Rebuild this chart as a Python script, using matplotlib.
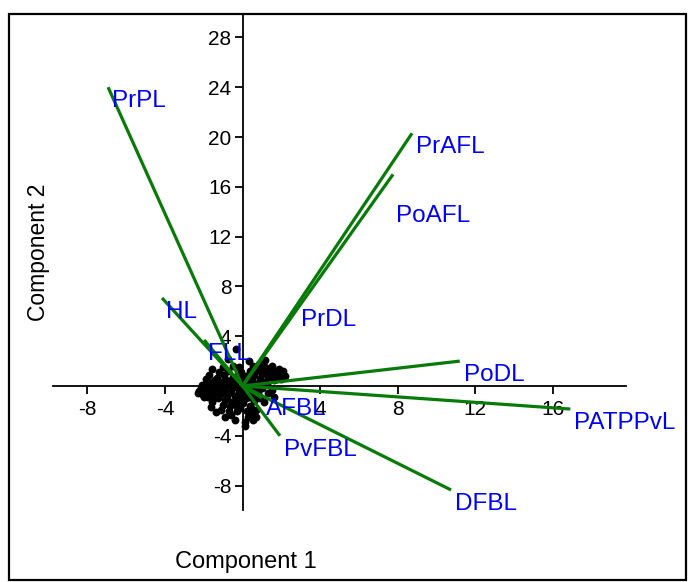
# biplot of component 1 vs component 2
import matplotlib
matplotlib.use('Agg')
import matplotlib.pyplot as plt
from matplotlib.patches import Rectangle

plt.rcParams['font.family'] = ['Liberation Sans', 'DejaVu Sans']
plt.rcParams['axes.unicode_minus'] = False

# loading vectors
var_names = ['PrPL', 'PrAFL', 'PoAFL', 'HL', 'FLL', 'PrDL', 'PoDL',
             'PATPPvL', 'AFBL', 'PvFBL', 'DFBL']
var_x = [-6.93, 8.74, 7.76, -4.15, -1.98, 2.8, 11.2, 16.9, 1.0, 1.93, 10.75]
var_y = [24.0, 20.3, 17.0, 7.07, 3.7, 6.4, 2.0, -1.85, -0.96, -4.0, -8.35]

# scores
score_x = [-2.24, -2.1, -1.95, -1.8, -1.7, -1.65, -1.55, -1.5, -1.45, -1.4,
           -1.3, -1.25, -1.2, -1.15, -1.05, -1.0, -0.95, -0.9, -0.88, -0.85,
           -0.8, -0.75, -0.7, -0.65, -0.6, -0.55, -0.5, -0.45, -0.4, -0.35,
           -0.3, -0.25, -0.2, -0.15, -0.1, -0.05, -1.55, -0.36, -0.74, -1.9,
           -2.0, -1.35, -1.1, -0.6, -0.3, -1.75, -0.2, -1.0, -2.3, -1.6,
           0.1, 0.2, 0.3, 0.4, 0.5, 0.6, 0.7, 0.8, 0.86, 0.9,
           1.0, 1.04, 1.1, 1.2, 1.3, 1.38, 1.45, 1.5, 1.6, 1.7,
           1.8, 1.9, 2.0, 2.07, 2.2, 1.14, 0.55, 0.35, 1.25, 0.75,
           0.1, 0.2, 0.3, 0.4, 0.42, 0.5, 0.52, 0.6, 0.68, 0.8,
           0.9, 1.0, 1.12, 1.3, 1.64, 0.25, 0.15, 0.05, 0.7, 1.5,
           -0.1, -0.5, -1.2,
           -2.05, -1.85, -1.6, -1.4, -1.2, -0.95, -0.7, -0.45, -0.25, -1.75,
           -1.5, -1.3, -1.05, -0.8, -0.55, -0.35, -2.15, -1.9, -0.65, -0.15,
           0.95, 1.15, 1.55, 1.75, 1.95, 0.65, 0.45, 1.35, 2.1, 0.25,
           0.35, 0.6, 0.85, 0.3, 0.45, 0.15, -0.4, -0.9, -1.45, -0.2]
score_y = [-0.4, 0.1, -0.2, -0.9, -0.5, -1.7, -1.3, 0.3, -0.1, -0.7,
           0.67, -1.0, 0.2, -0.4, 0.32, -1.5, 0.9, -0.2, -2.5, 0.5,
           -0.9, 1.2, -2.0, 0.1, -0.5, -1.3, 0.7, -0.1, -0.8, 0.3,
           -1.6, 0.9, -0.3, -1.0, 0.4, -0.6, 1.37, 3.0, 2.2, 0.6,
           -0.9, -2.1, -1.9, -2.3, -2.0, 0.9, 1.5, 1.5, -0.6, 0.0,
           0.3, 0.8, 0.2, 1.2, 0.5, 0.9, 0.2, 1.4, 1.8, 0.6,
           1.0, 2.1, 0.3, 1.2, 0.7, 1.28, 0.9, 1.6, 0.5, 1.1,
           0.8, 1.4, 0.6, 1.0, 0.8, 2.1, 1.6, 2.0, 0.2, 0.1,
           -0.4, -1.0, -0.3, -1.6, -2.3, -0.7, -2.76, -1.2, -1.9, -0.5,
           -1.0, -0.2, -1.29, -0.6, -0.89, -2.0, -2.9, -1.4, -2.5, -0.3,
           1.1, 1.6, 1.1,
           -0.7, 0.4, -0.9, 0.5, -0.7, -0.6, 0.4, 0.2, -0.7, -0.1,
           -0.3, -0.4, -0.1, 0.2, 0.3, -1.2, -0.2, -0.5, -1.6, -1.8,
           1.3, 1.5, 0.8, 0.6, 1.1, 1.1, 0.6, 1.0, 1.2, 0.5,
           -0.9, -0.4, -0.8, -2.5, -1.8, -3.2, -2.7, -1.1, -0.9, 0.6]

xticks = [-8, -4, 4, 8, 12, 16]
yticks = [-8, -4, 4, 8, 12, 16, 20, 24, 28]

# label offsets in points (dx, dy) from the vector tip
label_off = {'PoAFL': (2, -22), 'PrDL': (3, -2), 'AFBL': (3, 0)}

fig = plt.figure(figsize=(6.92, 5.82), dpi=100)
ax = fig.add_axes([53/692, 72/582, 573/692, 495/582])
ax.set_xlim(-9.77, 19.77)
ax.set_ylim(-9.96, 29.8)

ax.scatter(score_x, score_y, s=32, color='black', zorder=2, linewidths=0)

for name, x, y in zip(var_names, var_x, var_y):
    ax.plot([0, x], [0, y], color='#077a07', lw=2.3, zorder=3,
            solid_capstyle='butt')
    dx, dy = label_off.get(name, (3, -2))
    ax.annotate(name, (x, y), xytext=(dx, dy), textcoords='offset points',
                ha='left', va='top', color='#0000ff', fontsize=17.5, zorder=4)

# axes crossing at the origin
ax.spines['left'].set_position(('data', 0))
ax.spines['bottom'].set_position(('data', 0))
ax.spines['top'].set_visible(False)
ax.spines['right'].set_visible(False)
for s in ['left', 'bottom']:
    ax.spines[s].set_linewidth(1.3)
ax.set_xticks(xticks)
ax.set_yticks(yticks)
ax.tick_params(direction='out', length=6, width=1.3, labelsize=15)
ax.tick_params(axis='x', pad=4)
ax.tick_params(axis='y', pad=2)

fig.text(246/692, 1 - 562/582, 'Component 1', ha='center', va='center', fontsize=17)
fig.text(38/692, 1 - 252/582, 'Component 2', ha='center', va='center',
         rotation=90, fontsize=16.5)

# border round the figure
fig.patches.append(Rectangle((9/692, 2/582), 677/692, 566/582,
                             transform=fig.transFigure, fill=False,
                             edgecolor='black', lw=1.6))

plt.savefig('out.png', dpi=100)
